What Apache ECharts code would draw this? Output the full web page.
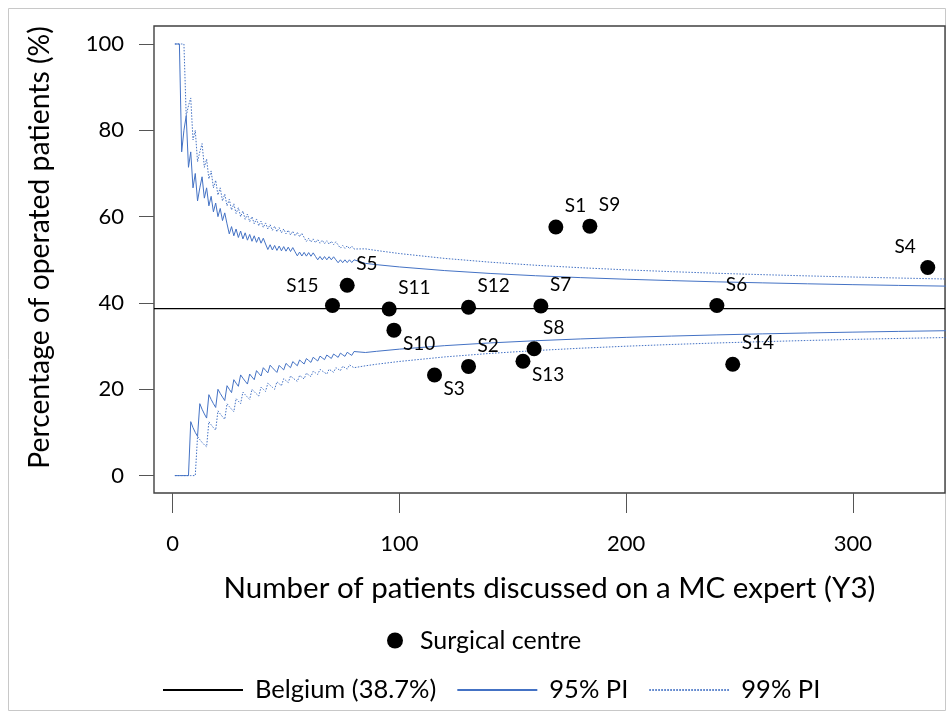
<!DOCTYPE html>
<html><head><meta charset="utf-8">
<script src="https://cdn.jsdelivr.net/npm/echarts@6/dist/echarts.min.js"></script>
<style>html,body{margin:0;padding:0;background:#fff}#c{width:947px;height:718px}</style>
</head><body><div id="c"></div>
<script>
// ---- data ----
const centreNames    = ['S1','S9','S4','S5','S15','S11','S12','S7','S6','S10','S8','S2','S13','S3','S14'];
const centrePatients = [169, 184, 333, 77, 70.5, 95.5, 130.5, 162.4, 240, 97.6, 159.4, 130.5, 154.5, 115.5, 247];
const centrePercent  = [57.6, 57.8, 48.2, 44.1, 39.4, 38.6, 39.0, 39.3, 39.4, 33.7, 29.4, 25.3, 26.5, 23.3, 25.8];
const belgiumRate = 38.7;

const piN = [1,2,3,4,5,6,7,8,9,10,11,12,13,14,15,16,17,18,19,20,21,22,23,24,25,26,27,28,29,30,31,32,33,34,35,36,37,38,39,40,
             41,42,43,44,45,46,47,48,49,50,51,52,53,54,55,56,57,58,59,60,61,62,63,64,65,66,67,68,69,70,71,72,73,74,75,76,77,78,79,80,
             85,90,100,120,140,160,180,200,220,240,260,280,300,320,341];
const upper95 = [100,100,100,75,80,83.33,71.43,75,66.67,70,63.64,66.67,69.23,64.29,66.67,62.5,64.71,61.11,63.16,60,
                 61.9,59.09,60.87,58.33,56,57.69,55.56,57.14,55.17,56.67,54.84,56.25,54.55,55.88,54.29,55.56,54.05,55.26,53.85,55,
                 53.66,52.38,53.49,52.27,53.33,52.17,53.19,52.08,53.06,52,52.94,51.92,52.83,51.85,50.91,51.79,50.88,51.72,50.85,51.67,
                 50.82,51.61,50.79,50,50.77,50,50.75,50,50.72,50,50.7,50,49.32,50,49.33,50,49.35,50,49.37,50,
                 49.17,48.87,48.35,47.5,46.84,46.31,45.87,45.5,45.18,44.9,44.66,44.44,44.24,44.07,43.9];
const lower95 = [0,0,0,0,0,0,0,12.5,11.11,10,9.09,16.67,15.38,14.29,13.33,18.75,17.65,16.67,15.79,20,
                 19.05,18.18,17.39,20.83,20,19.23,22.22,21.43,20.69,23.33,22.58,21.88,21.21,23.53,22.86,22.22,24.32,23.68,23.08,25,
                 24.39,23.81,25.58,25,24.44,23.91,25.53,25,24.49,26,25.49,25,26.42,25.93,25.45,26.79,26.32,25.86,27.12,26.67,
                 26.23,27.42,26.98,26.56,27.69,27.27,26.87,27.94,27.54,27.14,28.17,27.78,27.4,28.38,28,27.63,28.57,28.21,27.85,28.75,
                 28.52,28.8,29.3,30.11,30.74,31.25,31.67,32.03,32.33,32.6,32.84,33.05,33.24,33.41,33.57];
const upper99 = [100,100,100,100,100,83.33,85.71,87.5,77.78,80,72.73,75,76.92,71.43,73.33,68.75,70.59,66.67,68.42,65,
                 66.67,63.64,65.22,62.5,64,61.54,62.96,60.71,62.07,60,61.29,59.38,60.61,58.82,60,58.33,59.46,57.89,58.97,57.5,
                 58.54,57.14,58.14,56.82,57.78,56.52,57.45,56.25,57.14,56,56.86,55.77,56.6,55.56,56.36,55.36,56.14,55.17,54.24,55,
                 54.1,54.84,53.97,54.69,53.85,54.55,53.73,54.41,53.62,54.29,53.52,54.17,53.42,52.7,53.33,52.63,53.25,52.56,53.16,52.5,
                 52.54,52.15,51.45,50.32,49.45,48.74,48.16,47.67,47.25,46.88,46.56,46.27,46.01,45.78,45.55];
const lower99 = [0,0,0,0,0,0,0,0,0,0,9.09,8.33,7.69,7.14,6.67,12.5,11.76,11.11,10.53,15,
                 14.29,13.64,13.04,16.67,16,15.38,14.81,17.86,17.24,16.67,19.35,18.75,18.18,17.65,20,19.44,18.92,18.42,20.51,20,
                 19.51,21.43,20.93,20.45,20,21.74,21.28,20.83,22.45,22,21.57,23.08,22.64,22.22,21.82,23.21,22.81,22.41,23.73,23.33,
                 22.95,24.19,23.81,23.44,24.62,24.24,23.88,23.53,24.64,24.29,23.94,25,24.66,24.32,25.33,25,24.68,25.64,25.32,25,
                 25.44,25.81,26.45,27.5,28.31,28.97,29.52,29.98,30.38,30.73,31.03,31.31,31.56,31.78,31.99];

const xTicks = [0, 100, 200, 300];
const yTicks = [0, 20, 40, 60, 80, 100];
const xRange = [-8.2, 340.6];
const yRange = [-4.03, 104.17];

// ---- label placement (style, not data) ----
const labelPlace = {S1:'ur',S9:'ur',S4:'ul',S5:'ur',S15:'ul2',S11:'ur',S12:'ur',S7:'ur',S6:'ur',
                    S10:'dr',S8:'ur',S2:'ur',S13:'dr',S3:'dr',S14:'ur'};
const placeStyle = {
  ur:  {align:'left',  offset:[9,-21]},
  dr:  {align:'left',  offset:[9,14]},
  ul:  {align:'right', offset:[-12,-21]},
  ul2: {align:'right', offset:[-14,-20]}
};

const FONT = 'Lato';
const BLUE = '#4472C4';
const zip = (xs, ys) => xs.map((x, i) => [x, ys[i]]);

const scatterData = centreNames.map((nm, i) => {
  const p = placeStyle[labelPlace[nm]];
  return {
    name: nm,
    value: [centrePatients[i], centrePercent[i]],
    label: {show:true, position:'inside', formatter:'{b}', align:p.align, verticalAlign:'middle', offset:p.offset}
  };
});

const chart = echarts.init(document.getElementById('c'), null, {renderer:'canvas'});
chart.setOption({
  animation: false,
  backgroundColor: '#fff',
  textStyle: {fontFamily: FONT},
  graphic: [{
    type:'rect', shape:{x:8.5, y:8.5, width:937, height:702}, silent:true, z:-1,
    style:{fill:null, stroke:'#c8c8c8', lineWidth:1}
  }],
  grid: {left:154, right:2, top:26, bottom:225, show:true, borderColor:'#404040', borderWidth:1.4, backgroundColor:'transparent'},
  xAxis: {
    type:'value', min:xRange[0], max:xRange[1],
    name:'Number of patients discussed on a MC expert (Y3)', nameLocation:'middle', nameGap:80,
    nameTextStyle:{fontFamily:FONT, fontSize:29.5, color:'#000'},
    axisLine:{show:false, onZero:false},
    axisTick:{show:true, inside:false, length:20, customValues:xTicks, lineStyle:{color:'#555', width:1}},
    axisLabel:{customValues:xTicks, margin:40, fontFamily:FONT, fontSize:22, color:'#000'},
    splitLine:{show:false}
  },
  yAxis: {
    type:'value', min:yRange[0], max:yRange[1],
    name:'Percentage of operated patients (%)', nameLocation:'middle', nameGap:100, nameRotate:90,
    nameTextStyle:{fontFamily:FONT, fontSize:28.3, color:'#000', padding:[0,0,0,24]},
    axisLine:{show:false, onZero:false},
    axisTick:{show:true, inside:false, length:15, customValues:yTicks, lineStyle:{color:'#555', width:1}},
    axisLabel:{customValues:yTicks, margin:30, fontFamily:FONT, fontSize:22, color:'#000'},
    splitLine:{show:false}
  },
  legend: [{
    data:['Surgical centre'], left:382, top:623, icon:'circle', itemWidth:16, itemHeight:16,
    itemStyle:{opacity:1},
    textStyle:{fontFamily:FONT, fontSize:25, color:'#000', padding:[0,0,0,12]}
  }, {
    data:['Belgium (38.7%)','95% PI','99% PI'], left:157, top:672, itemWidth:80, itemHeight:14, itemGap:20,
    itemStyle:{opacity:0},
    textStyle:{fontFamily:FONT, fontSize:25.5, color:'#000', padding:[0,0,0,7]}
  }],
  series: [
    {name:'95% PI', type:'line', data:zip(piN, upper95), symbol:'none', lineStyle:{color:BLUE, width:1}, itemStyle:{color:BLUE}, z:2},
    {name:'95% PI', type:'line', data:zip(piN, lower95), symbol:'none', lineStyle:{color:BLUE, width:1}, itemStyle:{color:BLUE}, z:2},
    {name:'99% PI', type:'line', data:zip(piN, upper99), symbol:'none', lineStyle:{color:BLUE, width:1, type:[1.5,1.5]}, itemStyle:{color:BLUE}, z:2},
    {name:'99% PI', type:'line', data:zip(piN, lower99), symbol:'none', lineStyle:{color:BLUE, width:1, type:[1.5,1.5]}, itemStyle:{color:BLUE}, z:2},
    {name:'Belgium (38.7%)', type:'line', data:[[xRange[0], belgiumRate],[xRange[1], belgiumRate]], symbol:'none',
     lineStyle:{color:'#000', width:1.3}, itemStyle:{color:'#000'}, z:3},
    {name:'Surgical centre', type:'scatter', data:scatterData, symbol:'circle', symbolSize:15,
     itemStyle:{color:'#000', opacity:1}, label:{color:'#000', fontFamily:FONT, fontSize:19}, z:5}
  ]
});
</script>
</body></html>
